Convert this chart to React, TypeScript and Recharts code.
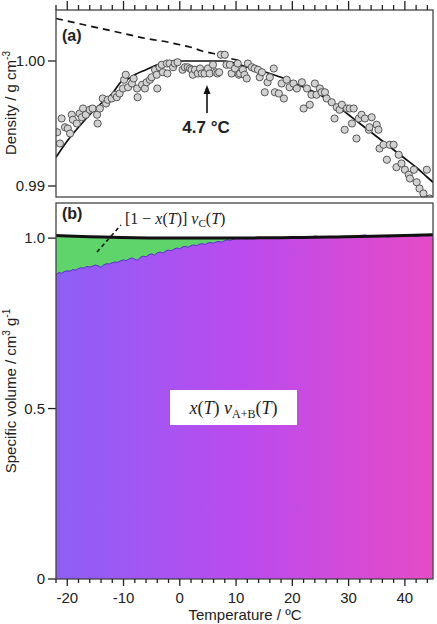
import { Area, ComposedChart, Line, Scatter, XAxis, YAxis } from "recharts";

const FONT = '"Liberation Sans", Arial, Helvetica, sans-serif';
const SERIF = '"Liberation Serif", "Times New Roman", serif';
const INK = "#222";

// (a) measured density, g cm-3
const densityTemps = [
    -21.8, -21.3, -21.0, -20.4, -19.9, -19.5, -19.2, -19.0, -18.3, -17.8, -17.4, -17.2, -16.7, -16.0, -15.5,
    -14.7, -14.6, -14.2, -13.7, -13.1, -12.8, -12.1, -11.5, -11.2, -10.7, -10.1, -9.9, -9.6, -9.2, -8.5,
    -8.2, -7.6, -7.5, -6.7, -6.2, -5.9, -5.3, -5.0, -4.4, -4.1, -4.0, -3.6, -3.2, -3.0, -2.3,
    -2.2, -1.8, -1.2, -0.9, -0.4, 0.5, 0.9, 1.4, 1.8, 2.1, 2.3, 2.7, 3.2, 3.6, 3.9,
    4.4, 5.0, 5.3, 5.9, 6.4, 6.7, 7.0, 7.3, 8.0, 8.3, 8.9, 9.2, 9.8, 10.3, 10.5,
    10.7, 11.2, 11.5, 11.9, 12.1, 12.8, 13.3, 13.9, 14.2, 14.6, 15.1, 15.6, 16.0, 16.7, 16.9,
    17.6, 18.1, 18.5, 19.0, 19.5, 20.2, 20.8, 21.7, 22.0, 22.6, 23.1, 23.4, 24.0, 24.3, 24.9,
    25.2, 25.8, 26.1, 27.0, 27.5, 27.9, 28.4, 28.8, 29.3, 29.7, 30.2, 30.6, 30.9, 31.4, 31.8,
    32.3, 32.9, 33.6, 33.7, 34.1, 35.0, 35.3, 35.5, 36.2, 36.8, 37.3, 38.0, 38.5, 38.9, 39.4,
    40.0, 40.7, 40.9, 41.6, 42.1, 42.6, 43.3, 43.9, 44.4,
];
const densityValues = [
    0.9943, 0.9934, 0.9954, 0.9947, 0.9946, 0.9942, 0.9957, 0.9953, 0.995, 0.9958, 0.9955, 0.9962, 0.9957, 0.9961, 0.9962,
    0.9957, 0.995, 0.9962, 0.997, 0.9966, 0.9969, 0.997, 0.9973, 0.9971, 0.9974, 0.9978, 0.9985, 0.9989, 0.9979, 0.9982,
    0.9986, 0.9978, 0.9971, 0.9981, 0.9978, 0.9983, 0.9985, 0.9987, 0.9993, 0.9989, 0.9978, 0.9995, 0.9997, 0.9991, 0.9998,
    0.999, 0.9998, 0.9995, 0.9998, 0.9999, 0.9993, 0.9995, 0.9995, 0.9994, 0.9993, 0.9989, 0.9993, 0.999, 0.9994, 0.999,
    0.999, 0.9994, 0.999, 0.9997, 0.9991, 0.999, 0.9991, 1.0005, 1.0005, 0.9997, 0.9997, 0.999, 0.9994, 0.9998, 0.9989,
    0.999, 0.9993, 0.9989, 0.9986, 0.9998, 0.9995, 0.9994, 0.9993, 0.9987, 0.9991, 0.9975, 0.9983, 0.9987, 0.9994, 0.9975,
    0.9974, 0.9982, 0.997, 0.9985, 0.9979, 0.9982, 0.9978, 0.9983, 0.9962, 0.9978, 0.9965, 0.9973, 0.9982, 0.9973, 0.9978,
    0.9975, 0.9975, 0.997, 0.9967, 0.9954, 0.9963, 0.9961, 0.9965, 0.9945, 0.9962, 0.9962, 0.995, 0.9962, 0.9938, 0.9954,
    0.9957, 0.9954, 0.9945, 0.9947, 0.9955, 0.9949, 0.9945, 0.993, 0.9933, 0.9921, 0.9933, 0.9933, 0.9915, 0.9925, 0.9918,
    0.9913, 0.9909, 0.9906, 0.9913, 0.9903, 0.9898, 0.9894, 0.9913, 0.989,
];

// (a) solid fit
const fitTemps = [-22, -20, -18, -16, -14, -12, -10, -9, -8, -6, -4, -2, 0, 4.7, 8, 10, 12, 14, 16, 18, 20, 22, 24, 26, 28, 30, 32, 34, 36, 38, 40, 42, 44, 45];
const fitValues = [
    0.9923, 0.9936, 0.9947, 0.9957, 0.9966, 0.9974, 0.9985, 0.9986, 0.9989, 0.9993, 0.9997, 0.9999, 1.0, 1.0, 1.0, 0.9998, 0.9995,
    0.9993, 0.999, 0.9987, 0.9983, 0.9979, 0.9975, 0.997, 0.9964, 0.9957, 0.995, 0.9943, 0.9936, 0.9929, 0.9922, 0.9915, 0.9907, 0.9903,
];

// (a) dashed curve
const dashTemps = [-22, -18, -14, -10, -6, -2, 0, 2, 4, 6, 8, 10, 11];
const dashValues = [1.0034, 1.003, 1.0026, 1.0022, 1.0018, 1.0015, 1.0013, 1.0011, 1.0008, 1.0006, 1.0003, 1.0001, 1.0];

// (b) top of the x(T) vA+B(T) region
const splitTemps = [
    -22, -21.5, -21, -20.5, -20, -19.5, -19, -18.5, -18, -17.5, -17, -16.5, -16, -15.5, -15, -14.5, -14, -13.5, -13, -12.5,
    -12, -11.5, -11, -10.5, -10, -9.5, -9, -8.5, -8, -7.5, -7, -6.5, -6, -5.5, -5, -4.5, -4, -3.5, -3, -2.5,
    -2, -1.5, -1, -0.5, 0, 0.5, 1, 1.5, 2, 2.5, 3, 3.5, 4, 4.5, 5, 5.5, 6, 6.5, 7, 7.5,
    8, 8.5, 9, 9.5, 10, 11, 12, 13, 14, 15, 16, 17, 18, 19, 20, 21, 22, 23, 24, 25,
    26, 27, 28, 29, 30, 31, 32, 33, 34, 35, 36, 37, 38, 39, 40, 41, 42, 43, 44, 45,
];
const splitValues = [
    0.893, 0.899, 0.897, 0.902, 0.904, 0.903, 0.908, 0.906, 0.911, 0.913, 0.912, 0.917, 0.915, 0.918, 0.921, 0.919, 0.914, 0.922, 0.925, 0.924,
    0.928, 0.93, 0.929, 0.934, 0.936, 0.934, 0.939, 0.942, 0.938, 0.935, 0.944, 0.947, 0.945, 0.951, 0.954, 0.95, 0.957, 0.959, 0.956, 0.962,
    0.965, 0.963, 0.968, 0.971, 0.969, 0.974, 0.976, 0.973, 0.978, 0.98, 0.978, 0.982, 0.984, 0.981, 0.986, 0.987, 0.985, 0.989, 0.99, 0.988,
    0.993, 0.995, 0.993, 0.997, 0.999, 1.0, 0.998, 1.001, 0.999, 1.001, 1.0, 0.999, 1.002, 1.0, 1.001, 0.999, 1.002, 1.003, 1.006, 1.004,
    1.001, 1.003, 1.004, 1.002, 1.004, 1.003, 1.008, 1.009, 1.005, 1.004, 1.006, 1.003, 1.006, 1.007, 1.005, 1.008, 1.004, 1.008, 1.007, 1.008,
];

// (b) total specific volume (black line)
const totalTemps = [-22, -20, -16, -12, -8, -4, 0, 4, 8, 12, 16, 20, 24, 28, 32, 36, 40, 45];
const totalValues = [1.0078, 1.0065, 1.0043, 1.0027, 1.0011, 1.0003, 1.0, 1.0, 1.0, 1.0005, 1.001, 1.0018, 1.0025, 1.0036, 1.005, 1.0065, 1.008, 1.0098];

const tempTicks = [-22, -20, -18, -16, -14, -12, -10, -8, -6, -4, -2, 0, 2, 4, 6, 8, 10, 12, 14, 16, 18, 20, 22, 24, 26, 28, 30, 32, 34, 36, 38, 40, 42, 44];
const tempLabels = [-20, -10, 0, 10, 20, 30, 40];
const densityTicks = [0.99, 1.0];
const volumeTicks = [0, 0.5, 1.0];

// plot box shared by both panels (same as the chart margins below)
const PLOT_LEFT = 56;
const PLOT_RIGHT = 433;
const T_MIN = -22;
const T_MAX = 45;
const tempX = (t: number) => PLOT_LEFT + ((t - T_MIN) / (T_MAX - T_MIN)) * (PLOT_RIGHT - PLOT_LEFT);

const zip = (ts: number[], vs: number[]) => ts.map((t, i) => ({ t, v: vs[i] }));

function Bead(props: any) {
    return <circle cx={props.cx} cy={props.cy} r={3.6} fill="#d2d2d2" stroke="#555" strokeWidth={1} />;
}

const tickText = { fill: INK, fontSize: 15, fontFamily: FONT };
const tickStroke = { stroke: "#222", strokeWidth: 1.3 };

export default function App() {
    return (
        <div style={{ position: "absolute", left: 0, top: 0, width: 437, height: 624, background: "#fff" }}>
            <div style={{ position: "absolute", left: 0, top: 0 }}>
                <ComposedChart width={437} height={200} margin={{ top: 10, right: 4, bottom: 3, left: 0 }}>
                    <XAxis type="number" dataKey="t" domain={[T_MIN, T_MAX]} allowDataOverflow height={0} hide />
                    <YAxis
                        type="number"
                        width={56}
                        domain={[0.98912, 1.00408]}
                        ticks={densityTicks}
                        interval={0}
                        allowDataOverflow
                        tickFormatter={(v: number) => v.toFixed(2)}
                        tickSize={8}
                        tickMargin={3}
                        axisLine={false}
                        tickLine={tickStroke}
                        tick={tickText}
                    />
                    <Scatter data={zip(densityTemps, densityValues)} dataKey="v" shape={Bead} isAnimationActive={false} />
                    <Line
                        data={zip(dashTemps, dashValues)}
                        dataKey="v"
                        type="monotone"
                        stroke="#111"
                        strokeWidth={1.7}
                        strokeDasharray="7 5"
                        dot={false}
                        isAnimationActive={false}
                    />
                    <Line
                        data={zip(fitTemps, fitValues)}
                        dataKey="v"
                        type="monotone"
                        stroke="#111"
                        strokeWidth={1.7}
                        dot={false}
                        isAnimationActive={false}
                    />
                </ComposedChart>
            </div>

            <div style={{ position: "absolute", left: 0, top: 200 }}>
                <ComposedChart width={437} height={424} margin={{ top: 3, right: 4, bottom: 0, left: 0 }}>
                    <defs>
                        <linearGradient id="abFill" x1="0" y1="0" x2="1" y2="0">
                            <stop offset="0%" stopColor="#8d5ff6" />
                            <stop offset="50%" stopColor="#bb4bee" />
                            <stop offset="100%" stopColor="#e64bc6" />
                        </linearGradient>
                    </defs>
                    <XAxis
                        type="number"
                        dataKey="t"
                        domain={[T_MIN, T_MAX]}
                        ticks={tempLabels}
                        interval={0}
                        allowDataOverflow
                        height={45}
                        tickSize={7}
                        tickMargin={6}
                        axisLine={false}
                        tickLine={false}
                        tick={tickText}
                    />
                    <YAxis
                        type="number"
                        width={56}
                        domain={[0, 1.103]}
                        ticks={volumeTicks}
                        interval={0}
                        allowDataOverflow
                        tickFormatter={(v: number) => (v === 0 ? "0" : v.toFixed(1))}
                        tickSize={8}
                        tickMargin={3}
                        axisLine={false}
                        tickLine={tickStroke}
                        tick={tickText}
                    />
                    <Area
                        data={zip(totalTemps, totalValues)}
                        dataKey="v"
                        type="monotone"
                        baseValue={0}
                        fill="#5fd46b"
                        fillOpacity={1}
                        stroke="none"
                        isAnimationActive={false}
                    />
                    <Area
                        data={zip(splitTemps, splitValues)}
                        dataKey="v"
                        type="linear"
                        baseValue={0}
                        fill="url(#abFill)"
                        fillOpacity={1}
                        stroke="#5a2fd2"
                        strokeWidth={1}
                        isAnimationActive={false}
                    />
                    <Line
                        data={zip(totalTemps, totalValues)}
                        dataKey="v"
                        type="monotone"
                        stroke="#111"
                        strokeWidth={3}
                        dot={false}
                        isAnimationActive={false}
                    />
                </ComposedChart>
            </div>

            <svg width={437} height={624} style={{ position: "absolute", left: 0, top: 0, pointerEvents: "none" }}>
                <rect x={56} y={10} width={377} height={187} fill="none" stroke="#444" strokeWidth={1.3} />
                <rect x={56} y={203} width={377} height={376} fill="none" stroke="#444" strokeWidth={1.3} />

                {/* temperature ticks: above panel (a) and below panel (b) */}
                {tempTicks.map((t) => {
                    const major = t % 10 === 0;
                    const x = tempX(t);
                    return (
                        <g key={t}>
                            <line x1={x} x2={x} y1={10} y2={major ? 1 : 5} stroke="#222" strokeWidth={1.3} />
                            <line x1={x} x2={x} y1={579} y2={major ? 586 : 583} stroke="#222" strokeWidth={1.3} />
                        </g>
                    );
                })}

                <text x={62} y={41} fontSize={16} fontWeight="bold" fontFamily={FONT} fill={INK}>(a)</text>
                <text x={62} y={219} fontSize={16} fontWeight="bold" fontFamily={FONT} fill={INK}>(b)</text>

                <line x1={207} y1={113} x2={207} y2={92} stroke="#111" strokeWidth={1.6} />
                <polygon points="207,85 203.5,94 210.5,94" fill="#111" />
                <text x={206} y={133} textAnchor="middle" fontSize={17} fontWeight="bold" fontFamily={FONT} fill={INK}>
                    4.7 °C
                </text>

                <line x1={97} y1={252} x2={121} y2={225} stroke="#111" strokeWidth={1.6} strokeDasharray="4 3" />
                <text x={125} y={224} fontSize={16} fontFamily={SERIF} fill={INK}>
                    [1 − <tspan fontStyle="italic">x</tspan>(<tspan fontStyle="italic">T</tspan>)]{" "}
                    <tspan fontStyle="italic">v</tspan>
                    <tspan fontSize={11} dy={3}>C</tspan>
                    <tspan dy={-3}>(</tspan>
                    <tspan fontStyle="italic">T</tspan>)
                </text>

                <rect x={170} y={390} width={127} height={35} fill="#fff" />
                <text x={233.5} y={414} textAnchor="middle" fontSize={18} fontFamily={SERIF} fill={INK}>
                    <tspan fontStyle="italic">x</tspan>(<tspan fontStyle="italic">T</tspan>){" "}
                    <tspan fontStyle="italic">v</tspan>
                    <tspan fontSize={12} dy={4}>A+B</tspan>
                    <tspan dy={-4}>(</tspan>
                    <tspan fontStyle="italic">T</tspan>)
                </text>

                <text transform="translate(16,103) rotate(-90)" textAnchor="middle" fontSize={15} fontFamily={FONT} fill={INK}>
                    Density / g cm<tspan fontSize={10} dy={-6}>-3</tspan>
                </text>
                <text transform="translate(16,391) rotate(-90)" textAnchor="middle" fontSize={15} fontFamily={FONT} fill={INK}>
                    Specific volume / cm<tspan fontSize={10} dy={-6}>3</tspan>
                    <tspan dy={6}> g</tspan>
                    <tspan fontSize={10} dy={-6}>-1</tspan>
                </text>
                <text x={245} y={620} textAnchor="middle" fontSize={15} fontFamily={FONT} fill={INK}>
                    Temperature / ºC
                </text>
            </svg>
        </div>
    );
}
